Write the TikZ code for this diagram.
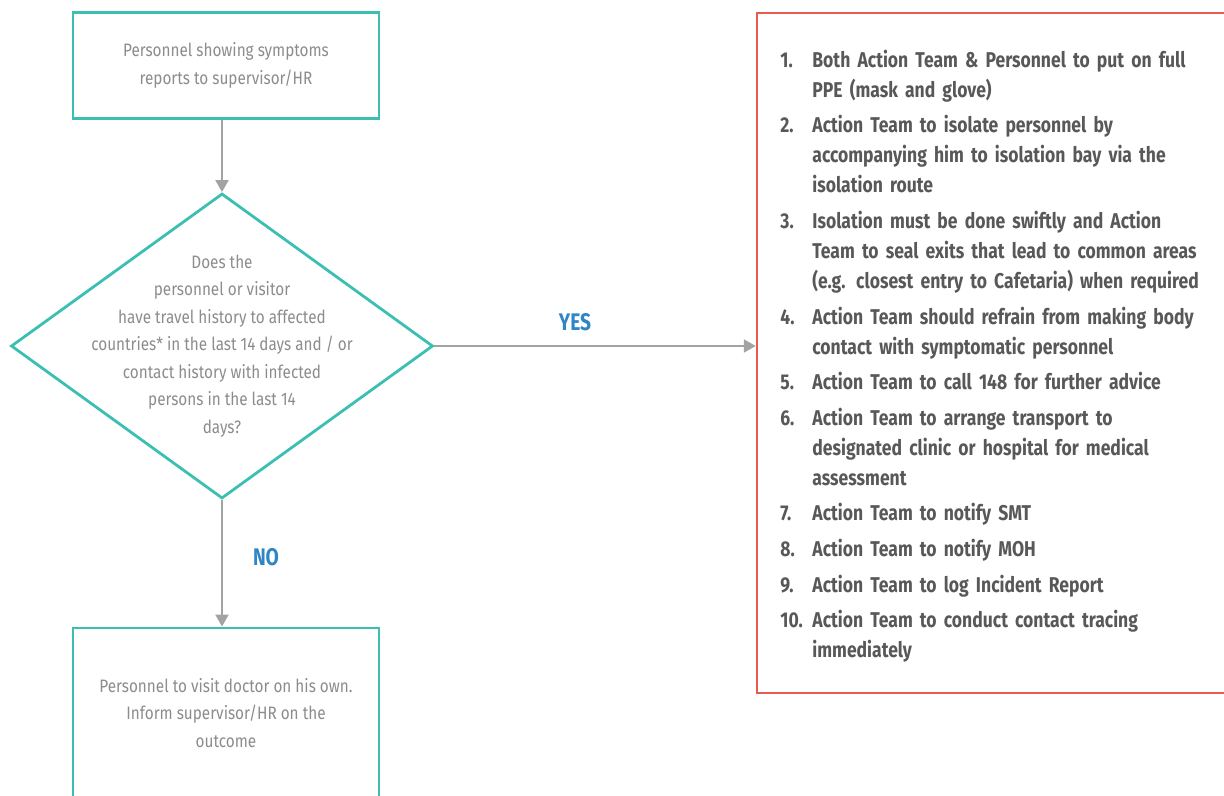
\documentclass[tikz,border=0pt]{standalone}
\usepackage{fontspec}
\setmainfont{Fira Sans}[FakeStretch=0.8]
\newfontfamily\greyfont{Fira Sans}[FakeStretch=0.85]
\newfontfamily\listfont{Fira Sans}[FakeStretch=0.82]
\usepackage{tikz}
\usetikzlibrary{shapes.geometric,arrows.meta,positioning}

\definecolor{flowteal}{HTML}{3CBFB3}
\definecolor{flowred}{HTML}{E85A4F}
\definecolor{flowblue}{HTML}{2F86C6}
\definecolor{flowgrey}{HTML}{8C8C8C}
\definecolor{listgrey}{HTML}{585858}

\newcounter{stepno}
\newenvironment{actionlist}{%
  \begin{list}{\arabic{stepno}.}{\usecounter{stepno}%
    \setlength\leftmargin{16pt}\setlength\labelwidth{16pt}%
    \setlength\labelsep{0pt}\setlength\itemsep{2.8pt}%
    \setlength\parsep{0pt}\setlength\topsep{0pt}\setlength\partopsep{0pt}%
    \renewcommand\makelabel[1]{##1\hfil}}}%
  {\end{list}}

\begin{document}
\begin{tikzpicture}[x=0.5pt,y=-0.5pt,
  every node/.style = {inner sep=0pt, align=center},
  flowbox/.style = {draw=flowteal, line width=1.4pt, fill=white,
    minimum width=153pt, text=flowgrey,
    font=\greyfont\fontsize{9}{13.75}\selectfont},
  decision/.style = {diamond, draw=flowteal, line width=1.4pt,
    minimum width=211pt, minimum height=152.5pt},
  actbox/.style = {draw=flowred, line width=1.2pt,
    minimum width=251.5pt, minimum height=340pt},
  answer/.style = {text=flowblue, font=\fontsize{12}{14}\selectfont\bfseries},
  flow/.style = {draw=flowgrey!80, line width=1pt,
    -{Triangle[length=6pt,width=6.5pt]}}]

  \useasboundingbox (0,0) rectangle (1224,796);
  \clip (0,0) rectangle (1224,796);

  \node[flowbox, minimum height=53pt] (report) at (226,65.5)
    {Personnel showing symptoms\\reports to supervisor/HR};
  \node[decision] (check) at (222,346) {};
  \node[text=flowgrey, font=\greyfont\fontsize{9}{13.75}\selectfont] (question) at (check.center)
    {Does the\\personnel or visitor\\have travel history to affected\\countries* in the last 14 days and / or\\contact history with infected\\persons in the last 14\\days?};
  \node[flowbox, minimum height=85pt] (visit) at (226,713)
    {Personnel to visit doctor on his own.\\Inform supervisor/HR on the\\outcome};

  \node[actbox] (action) at (1008.5,353) {};
  \node[anchor=north west, align=left, text width=235pt, text=listgrey,
    font=\listfont\fontsize{10.7}{15}\selectfont\bfseries] (steps) at (780,37)
  {\begin{actionlist}
    \item Both Action Team \& Personnel to put on full\newline PPE (mask and glove)
    \item Action Team to isolate personnel by\newline accompanying him to isolation bay via the\newline isolation route
    \item Isolation must be done swiftly and Action\newline Team to seal exits that lead to common areas\newline (e.g. closest entry to Cafetaria) when required
    \item Action Team should refrain from making body\newline contact with symptomatic personnel
    \item Action Team to call 148 for further advice
    \item Action Team to arrange transport to\newline designated clinic or hospital for medical\newline assessment
    \item Action Team to notify SMT
    \item Action Team to notify MOH
    \item Action Team to log Incident Report
    \item Action Team to conduct contact tracing\newline immediately
  \end{actionlist}};

  \draw[flow] (report.south -| check.north) -- (check.north);
  \draw[flow] (check.east) -- (action.west |- check.east);
  \draw[flow] (check.south) -- (visit.north -| check.south);

  \node[answer] (yes) at (575,322) {YES};
  \node[answer] (no) at (266,557) {NO};
\end{tikzpicture}
\end{document}
